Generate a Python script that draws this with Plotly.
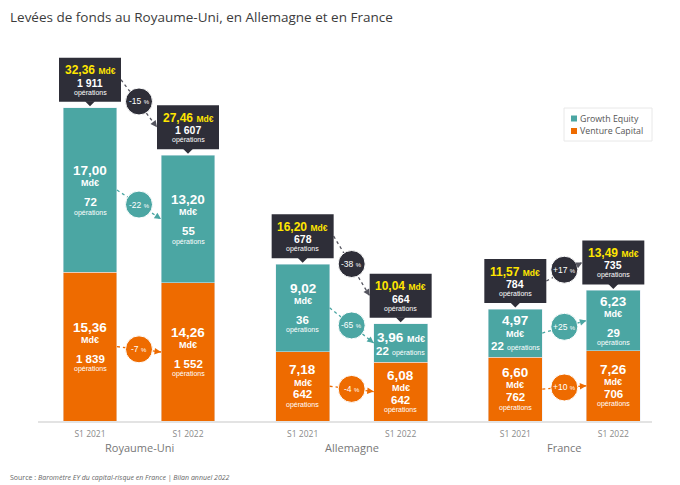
import plotly.graph_objects as go

# ---------------- data ----------------
countries = ["Royaume-Uni", "Allemagne", "France"]
periods = ["S1 2021", "S1 2022"]
series_names = ["Growth Equity", "Venture Capital"]
ge_values = [17.00, 13.20, 9.02, 3.96, 4.97, 6.23]
ge_deals = [72, 55, 36, 22, 22, 29]
vc_values = [15.36, 14.26, 7.18, 6.08, 6.60, 7.26]
vc_deals = [1839, 1552, 642, 642, 762, 706]
total_values = [32.36, 27.46, 16.20, 10.04, 11.57, 13.49]
total_deals = [1911, 1607, 678, 664, 784, 735]
total_change = [-15, -38, 17]
ge_change = [-22, -65, 25]
vc_change = [-7, -4, 10]
unit = "Md€"
deals_word = "opérations"
title_text = "Levées de fonds au Royaume-Uni, en Allemagne et en France"
source_label = "Source : "
source_text = "Baromètre EY du capital-risque en France | Bilan annuel 2022"

# ---------------- style / layout constants ----------------
W, H = 680, 485
ML, MR, MT, MB = 38, 28, 50, 64
PW, PH = W - ML - MR, H - MT - MB
PX_X = 98.0          # pixels per x unit
PX_Y = 9.68          # pixels per y unit
FIRST_PX = 90        # pixel of first bar centre
GROUP_STEP = 2.17
BAR_W = 0.55
FONT = "Open Sans"
NUM_FONT = "Liberation Sans"
TEAL = "#4ba6a3"
ORANGE = "#ee6b00"
DARK = "#2e2e38"
YELLOW = "#ffe600"
GREY_TXT = "#8a8a8a"

x_range = [-(FIRST_PX - ML) / PX_X, (ML + PW - FIRST_PX) / PX_X]
y_range = [0, PH / PX_Y]

positions = []
tick_text = []
for g in range(len(countries)):
    for m in range(len(periods)):
        positions.append(g * GROUP_STEP + m)
        tick_text.append(periods[m])


def fmt_val(v):
    return f"{v:.2f}".replace(".", ",")


def fmt_int(n):
    return f"{n:,}".replace(",", " ")


def fmt_pct(p):
    s = f"+{p}" if p > 0 else f"{p}"
    return s + " <span style='font-size:6px'>%</span>"


def sp(text, size, bold=False):
    t = f"<b>{text}</b>" if bold else text
    return f"<span style='font-size:{size}px'>{t}</span>"


fig = go.Figure()
fig.add_trace(go.Bar(x=positions, y=vc_values, name=series_names[1], marker_color=ORANGE,
                     width=BAR_W, showlegend=False, hoverinfo="skip"))
fig.add_trace(go.Bar(x=positions, y=ge_values, name=series_names[0], marker_color=TEAL,
                     width=BAR_W, showlegend=False, hoverinfo="skip"))

shapes = []
annotations = []


def txt(x, y, text, size, yshift=0, color="white", xref="x", yref="y", xanchor="center",
        family=NUM_FONT):
    annotations.append(dict(x=x, y=y, xref=xref, yref=yref, text=text, showarrow=False,
                            font=dict(family=family, size=size, color=color),
                            xanchor=xanchor, yanchor="middle", yshift=yshift, borderpad=0))


# ---- segment labels ----
V_SIZE, U_SIZE, D_SIZE, W_SIZE = 13.5, 9, 11.5, 7


def seg_labels(x, base, value, deals, is_ge):
    cy = base + value / 2
    hpx = value * PX_Y
    v = f"<b>{fmt_val(value)}</b>"
    u = f"<b>{unit}</b>"
    d = f"<b>{fmt_int(deals)}</b>"
    if hpx > 100 or (is_ge and hpx > 55):
        txt(x, cy, v, V_SIZE, 19.5)
        txt(x, cy, u, U_SIZE, 6.8)
        txt(x, cy, d, D_SIZE, -12)
        txt(x, cy, deals_word, W_SIZE, -22.5)
    elif hpx > 55:
        txt(x, cy, v, V_SIZE, 16.3)
        txt(x, cy, u, U_SIZE, 3.6)
        txt(x, cy, d, D_SIZE, -8)
        txt(x, cy, deals_word, W_SIZE, -18.5)
    elif hpx > 42:
        txt(x, cy, v, V_SIZE, 12.2)
        txt(x, cy, u, U_SIZE, -0.5)
        txt(x, cy, f"{d} {sp(deals_word, W_SIZE)}", D_SIZE, -13)
    else:
        txt(x, cy, f"{v} {sp(u, U_SIZE)}", V_SIZE, 5.5)
        txt(x, cy, f"{d} {sp(deals_word, W_SIZE)}", D_SIZE, -8.5)


for i, x in enumerate(positions):
    seg_labels(x, 0, vc_values[i], vc_deals[i], False)
    seg_labels(x, vc_values[i], ge_values[i], ge_deals[i], True)

# ---- connectors + circles (drawn before boxes) ----
BOX_LO, BOX_HI, BOX_HW = 6, 50, 31
box_mid = (BOX_LO + BOX_HI) / 2


def connector(tx, ty, hx, hy, color):
    shapes.append(dict(type="line", xref="x", yref="y", x0=tx, y0=ty, x1=hx, y1=hy,
                       line=dict(color=color, width=1.3, dash="dot"), layer="above"))
    dxp = (hx - tx) * PX_X
    dyp = (hy - ty) * PX_Y
    ln = (dxp ** 2 + dyp ** 2) ** 0.5
    annotations.append(dict(x=hx, y=hy, xref="x", yref="y", text="", showarrow=True,
                            arrowhead=2, arrowsize=1, arrowwidth=1.3, arrowcolor=color,
                            ax=-dxp / ln * 6, ay=dyp / ln * 6, standoff=0))


def circle(cx, cy, color, label):
    r = 13.5
    shapes.append(dict(type="circle", xref="x", yref="y", xsizemode="pixel", ysizemode="pixel",
                       xanchor=cx, yanchor=cy, x0=-r, x1=r, y0=-r, y1=r,
                       fillcolor=color, line=dict(color="white", width=1), layer="above"))
    txt(cx, cy, label, 8.5, 0)


for g in range(len(countries)):
    a, b = 2 * g, 2 * g + 1
    xa, xb = positions[a], positions[b]
    tya = total_values[a] + box_mid / PX_Y
    tyb = total_values[b] + box_mid / PX_Y
    connector(xa + BOX_HW / PX_X, tya, xb - BOX_HW / PX_X, tyb, "#55555f")
    gya = vc_values[a] + ge_values[a] / 2
    gyb = vc_values[b] + ge_values[b] / 2
    half = BAR_W / 2
    connector(xa + half, gya, xb - half, gyb, TEAL)
    vya = vc_values[a] / 2
    vyb = vc_values[b] / 2
    connector(xa + half, vya, xb - half, vyb, ORANGE)
    xm = (xa + xb) / 2
    circle(xm, (tya + tyb) / 2 + 2 / PX_Y, DARK, fmt_pct(total_change[g]))
    circle(xm, (gya + gyb) / 2, TEAL, fmt_pct(ge_change[g]))
    circle(xm, (vya + vyb) / 2, ORANGE, fmt_pct(vc_change[g]))

# ---- total callout boxes ----
for i, x in enumerate(positions):
    t = total_values[i]
    shapes.append(dict(type="rect", xref="x", yref="y", xsizemode="pixel", ysizemode="pixel",
                       xanchor=x, yanchor=t, x0=-BOX_HW, x1=BOX_HW, y0=BOX_LO, y1=BOX_HI,
                       fillcolor=DARK, line=dict(width=0), layer="above"))
    shapes.append(dict(type="path", xref="x", yref="y", xsizemode="pixel", ysizemode="pixel",
                       xanchor=x, yanchor=t, path="M -5,6.5 L 5,6.5 L 0,1.5 Z",
                       fillcolor=DARK, line=dict(width=0), layer="above"))
    txt(x, t, f"<b>{fmt_val(t)}</b> {sp('<b>' + unit + '</b>', 8.5)}", 12, 37.5, color=YELLOW)
    txt(x, t, f"<b>{fmt_int(total_deals[i])}</b>", 10.5, 25)
    txt(x, t, deals_word, 7, 15)

# ---- country labels ----
for g, c in enumerate(countries):
    txt(g * GROUP_STEP + 0.5, 0, c, 11, -26, color="#777777", yref="paper", family=FONT)


# ---- legend (custom) ----
def px_to_paper_x(px):
    return (px - ML) / PW


def px_to_paper_y(py):
    return (H - MB - py) / PH


shapes.append(dict(type="rect", xref="paper", yref="paper",
                   x0=px_to_paper_x(564), x1=px_to_paper_x(652),
                   y0=px_to_paper_y(141), y1=px_to_paper_y(108),
                   fillcolor="white", line=dict(color="#e8e8e8", width=1)))
for k, (name, col) in enumerate(zip(series_names, [TEAL, ORANGE])):
    cy = 118.5 + 12.5 * k
    shapes.append(dict(type="rect", xref="paper", yref="paper",
                       x0=px_to_paper_x(571), x1=px_to_paper_x(577),
                       y0=px_to_paper_y(cy + 3), y1=px_to_paper_y(cy - 3),
                       fillcolor=col, line=dict(width=0)))
    txt(px_to_paper_x(579), px_to_paper_y(cy), name, 8.8, 0, color="#555555",
        xref="paper", yref="paper", xanchor="left", family=FONT)

# ---- source ----
txt(px_to_paper_x(9), px_to_paper_y(477), f"{source_label}<i>{source_text}</i>", 7, 0,
    color="#666666", xref="paper", yref="paper", xanchor="left", family=FONT)

fig.update_layout(
    width=W, height=H,
    margin=dict(l=ML, r=MR, t=MT, b=MB),
    barmode="stack",
    plot_bgcolor="white", paper_bgcolor="white",
    showlegend=False,
    title=dict(text=title_text, x=10 / W, xref="container", xanchor="left",
               y=1 - 17 / H, yanchor="middle",
               font=dict(family=FONT, size=13.5, color="#3c3c3c")),
    xaxis=dict(range=x_range, tickvals=positions, ticktext=tick_text, showgrid=False,
               zeroline=False, showline=True, linecolor="#e3e3e3", linewidth=2, ticks="",
               ticklabelstandoff=4,
               tickfont=dict(family=FONT, size=8.5, color=GREY_TXT), fixedrange=True),
    yaxis=dict(range=y_range, visible=False, fixedrange=True),
    shapes=shapes,
    annotations=annotations,
    font=dict(family=FONT),
)

fig.write_html("out.html", config={"displayModeBar": False},
               post_script="document.body.style.margin='0px';")
